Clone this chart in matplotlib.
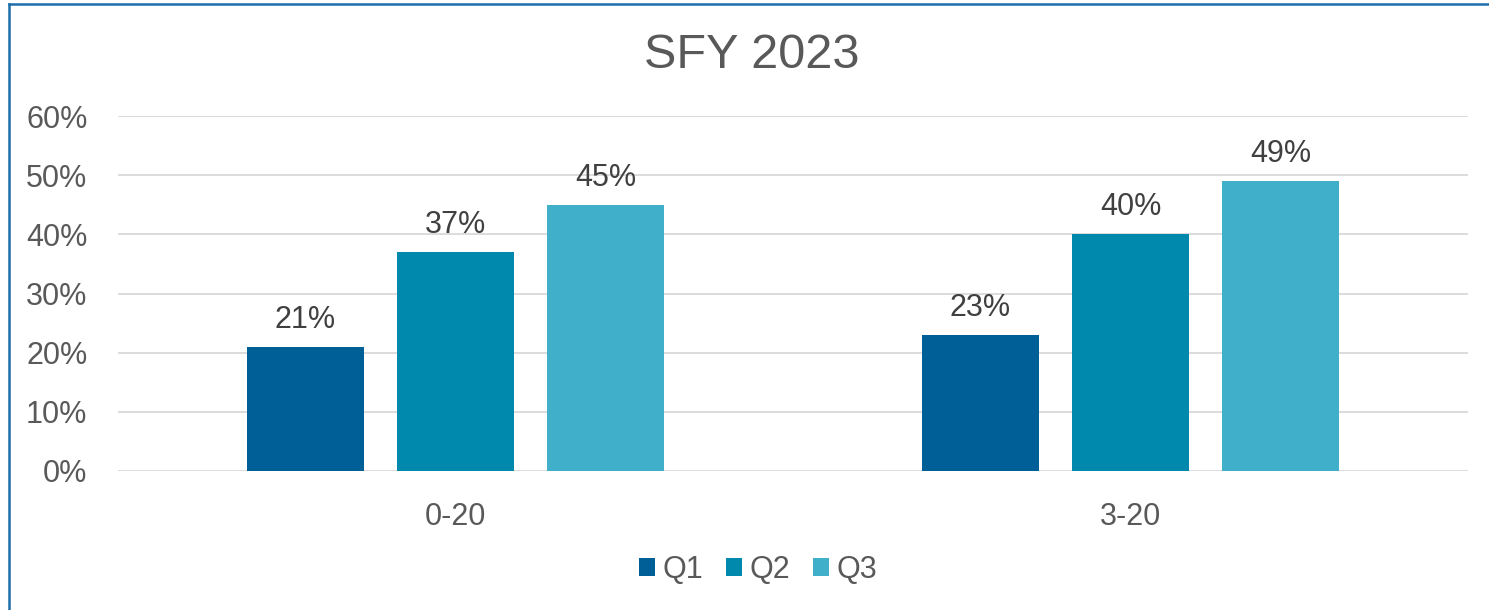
import matplotlib
matplotlib.use("Agg")
import matplotlib.pyplot as plt
import numpy as np
from matplotlib.lines import Line2D
from matplotlib.ticker import PercentFormatter

categories = ["0-20", "3-20"]
series = ["Q1", "Q2", "Q3"]
q1 = [21, 23]
q2 = [37, 40]
q3 = [45, 49]
values = [q1, q2, q3]
colors = ["#005F96", "#0088AD", "#40B0CA"]
yticks = [0, 10, 20, 30, 40, 50, 60]

plt.rcParams['font.family'] = ['Liberation Sans', 'DejaVu Sans']

fig = plt.figure(figsize=(14.89, 6.10), dpi=100)
ax = fig.add_axes([118/1489, 1-471/610, 1350/1489, 355/610])

x = np.arange(len(categories))
width = 117/675
pitch = 150/675
offsets = [-pitch, 0, pitch]
for vals, name, col, off in zip(values, series, colors, offsets):
    bars = ax.bar(x + off, vals, width, color=col, label=name, zorder=3)
    for b, v in zip(bars, vals):
        ax.annotate(f"{v}%", (b.get_x() + b.get_width()/2, v),
                    xytext=(0, 12), textcoords="offset pixels",
                    ha="center", va="bottom", fontsize=22, color="#404040")

ax.set_xlim(-0.5, 1.5)
ax.set_ylim(0, 60)
ax.set_yticks(yticks)
ax.yaxis.set_major_formatter(PercentFormatter(decimals=0))
ax.set_xticks(x)
ax.set_xticklabels(categories)
ax.tick_params(axis='both', length=0, labelsize=22, labelcolor="#595959")
ax.tick_params(axis='y', pad=22)
ax.tick_params(axis='x', pad=22)
ax.grid(axis='y', color="#D9D9D9", linewidth=1.3, zorder=0)
for s in ax.spines.values():
    s.set_visible(False)

fig.text(752/1489, 1-55/610, "SFY 2023", ha="center", va="center",
         fontsize=35, color="#595959")

leg = fig.legend(loc="center", bbox_to_anchor=(758/1489, 1-570/610), ncol=3,
                 frameon=False, fontsize=22, handlelength=0.52, handleheight=0.52,
                 handletextpad=0.25, columnspacing=0.75, labelcolor="#595959")

fig.add_artist(Line2D([8.5/1489, 8.5/1489], [0, 1-3.5/610], transform=fig.transFigure,
                      color="#1F6EAA", linewidth=1.8))
fig.add_artist(Line2D([8.5/1489, 1], [1-3.5/610, 1-3.5/610], transform=fig.transFigure,
                      color="#1F6EAA", linewidth=1.8))

fig.savefig("out.png", dpi=100)
